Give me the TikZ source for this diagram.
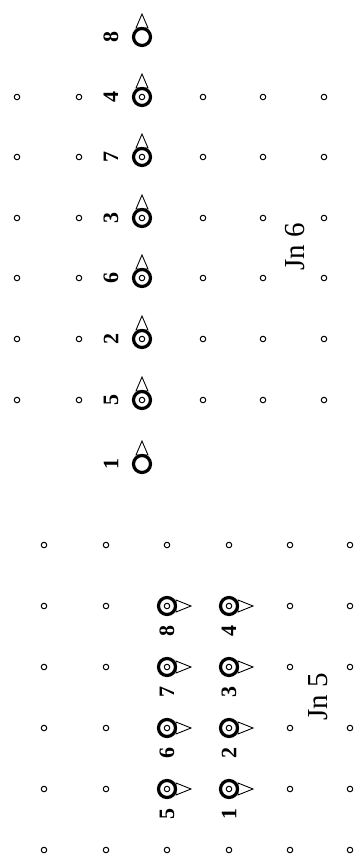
\documentclass[tikz,border=0pt]{standalone}
\usepackage{fontspec}
\setmainfont{Liberation Serif}
\usepackage{tikz}
\usetikzlibrary{positioning}

\begin{document}
\begin{tikzpicture}[x=1pt,y=-1pt,
  ring/.style={circle,draw,line width=3.2pt,minimum size=17pt,inner sep=0pt},
  hole/.style={circle,draw,line width=1pt,minimum size=5.5pt,inner sep=0pt},
  pinnum/.style={font=\fontsize{22}{22}\selectfont\bfseries,rotate=90},
  jnlabel/.style={font=\fontsize{29}{29}\selectfont,rotate=90},
  tip/.style={line width=0.9pt}]
\useasboundingbox (0,0) rectangle (360,863);
% Jn 6, pins pointing up
\foreach \n/\y in {8/37,4/97,7/157,3/218,6/278,2/339,5/400,1/464} {
  \draw[tip] (142,\y) ++(-6,-9) -- ++(6,-14) -- ++(6,14) -- cycle;
  \node[ring] (u\n) at (142,\y) {};
  \node[pinnum] (un\n) at (111,\y) {\n};
}
\foreach \n in {2,...,7}
  \node[hole] (uh\n) at (u\n) {};
\foreach \x in {17,79,203,263,324}
  \foreach \y in {97,157,218,278,339,400}
    \node[hole] (ug-\x-\y) at (\x,\y) {};
\node[jnlabel] (jn6) at (295,247) {Jn 6};
% Jn 5, pins pointing right
\foreach \n/\x/\y in {8/167/606,7/167/667,6/167/728,5/167/789,4/229/606,3/229/667,2/229/728,1/229/789} {
  \draw[tip] (\x,\y) ++(9,-6) -- ++(15,6) -- ++(-15,6) -- cycle;
  \node[ring] (d\n) at (\x,\y) {};
  \node[hole] (dh\n) at (d\n) {};
  \node[pinnum] (dn\n) at (\x,\y+25) {\n};
}
\foreach \x in {44,106,167,229,290,350}
  \foreach \y in {545,850}
    \node[hole] (dg-\x-\y) at (\x,\y) {};
\foreach \x in {44,106,290,350}
  \foreach \y in {606,667,728,789}
    \node[hole] (dg-\x-\y) at (\x,\y) {};
\node[jnlabel] (jn5) at (318,697) {Jn 5};
\end{tikzpicture}
\end{document}
